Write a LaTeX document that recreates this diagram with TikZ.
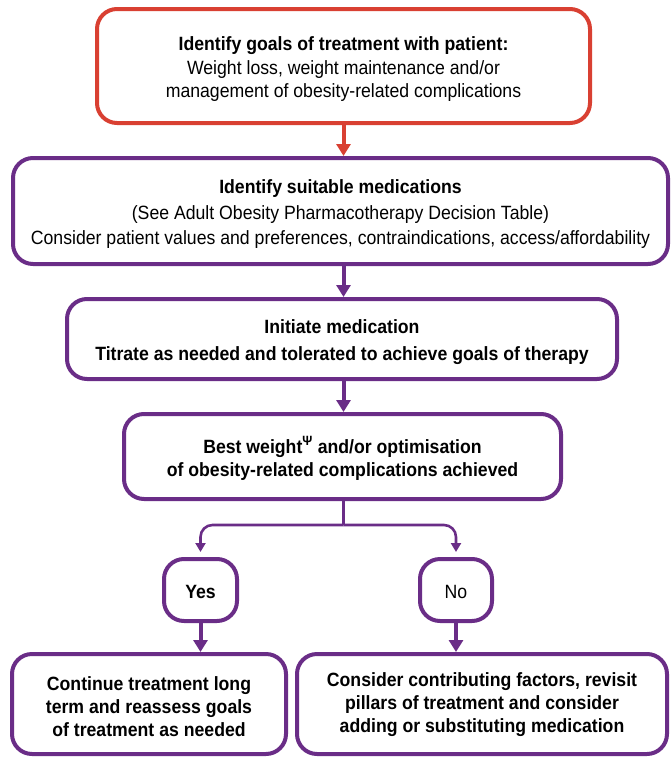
\documentclass[tikz,border=0pt]{standalone}
\usepackage{fontspec}
\setmainfont{Liberation Sans}[FakeStretch=0.92]
\usetikzlibrary{arrows.meta}
\definecolor{redline}{RGB}{217,64,50}
\definecolor{purp}{RGB}{106,45,135}
\newcommand\mystrut[1]{\rule{0pt}{#1}}
\tikzset{
  box/.style={draw=purp, line width=4pt, rounded corners=20pt, fill=white, inner sep=0pt, align=center, font=\fontsize{19.2}{23}\selectfont},
  redbox/.style={box, draw=redline},
  flow/.style={draw=purp, line width=4pt, -{Triangle[width=14pt,length=12pt]}},
  branch/.style={draw=purp, line width=2.6pt, rounded corners=12pt, -{Triangle[width=10pt,length=9pt]}},
}
\begin{document}
\begin{tikzpicture}[x=1pt,y=-1pt]
\useasboundingbox (0,0) rectangle (671,758);
\node[redbox, minimum width=493pt, minimum height=114pt] (b1) at (343.5,66)
  {\mystrut{20pt}\textbf{Identify goals of treatment with patient:}\\[1pt]Weight loss, weight maintenance and/or\\management of obesity-related complications};
\node[box, minimum width=655pt, minimum height=106pt] (b2) at (340.5,211)
  {\mystrut{20pt}\textbf{Identify suitable medications}\\[3pt](See Adult Obesity Pharmacotherapy Decision Table)\\[2pt]Consider patient values and preferences, contraindications, access/affordability};
\node[box, minimum width=550pt, minimum height=80pt] (b3) at (342,339)
  {\mystrut{20pt}\textbf{Initiate medication}\\[4pt]\textbf{Titrate as needed and tolerated to achieve goals of therapy}};
\node[box, minimum width=437pt, minimum height=85pt] (b4) at (342.5,456.5)
  {\mystrut{21pt}\textbf{Best weight\textsuperscript{Ψ} and/or optimisation}\\\textbf{of obesity-related complications achieved}};
\node[box, minimum width=73pt, minimum height=62pt] (yes) at (200.5,590) {\mystrut{17pt}\textbf{Yes}};
\node[box, minimum width=72pt, minimum height=62pt] (no) at (456,590) {\mystrut{17pt}No};
\node[box, minimum width=274pt, minimum height=100pt] (b5) at (149,704)
  {\mystrut{20pt}\textbf{Continue treatment long}\\\textbf{term and reassess goals}\\\textbf{of treatment as needed}};
\node[box, minimum width=370pt, minimum height=100pt] (b6) at (482,704)
  {\mystrut{16pt}\textbf{Consider contributing factors, revisit}\\\textbf{pillars of treatment and consider}\\\textbf{adding or substituting medication}};
\draw[flow, draw=redline, -{Triangle[width=14pt,length=12pt,fill=redline]}] (b1.south) -- (b1.south |- b2.north);
\draw[flow] (b1.south |- b2.south) -- (b1.south |- b3.north);
\draw[flow] (b1.south |- b3.south) -- (b1.south |- b4.north);
\coordinate (j) at (343.5,525);
\draw[draw=purp, line width=2.6pt] (b1.south |- b4.south) -- (j);
\draw[branch, shorten >=5pt] (j) -| (yes.north);
\draw[branch, shorten >=5pt] (j) -| (no.north);
\draw[flow] (yes.south) -- (yes.south |- b5.north);
\draw[flow] (no.south) -- (no.south |- b6.north);
\end{tikzpicture}
\end{document}
